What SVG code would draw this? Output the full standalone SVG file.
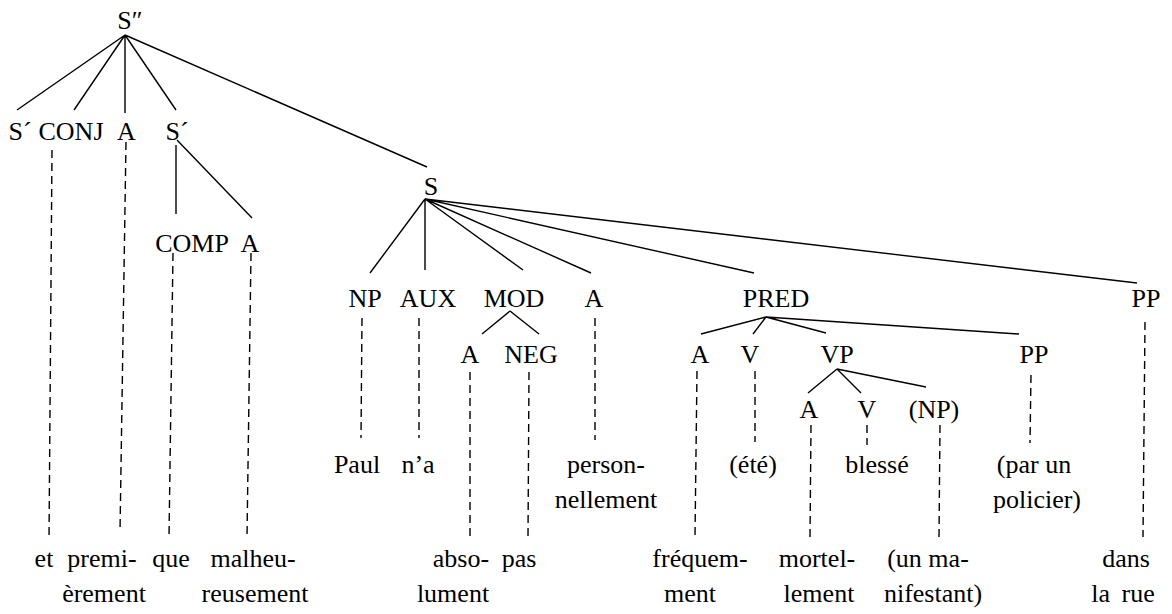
<svg xmlns="http://www.w3.org/2000/svg" width="1172" height="614" viewBox="0 0 1172 614">
<style>
text{font-family:"Liberation Serif","Times New Roman",serif;font-size:26px;fill:#000;text-anchor:middle}
.e{stroke:#000;stroke-width:1.4;fill:none}
.d{stroke:#000;stroke-width:1.4;fill:none;stroke-dasharray:8 5}
</style>
<rect width="1172" height="614" fill="#fff"/>
<g id="connectors">
<path class="e" d="M125 35L17 110M125 35L74 110M125 35L125 113M125 35L176 110M125 35L427 167"/>
<path class="e" d="M176 145L176 214M177 140L252 218"/>
<path class="e" d="M425 199L370 273M425 199L425 270M425 199L523 270M425 199L591 273M425 199L754 273M425 199L1137 283"/>
<path class="e" d="M510 311L482 334M510 311L539 334"/>
<path class="e" d="M766 317L701 334M766 317L753 334M766 317L826 333M766 317L1019 334"/>
<path class="e" d="M837 369L808 393M837 369L861 393M837 369L926 387"/>
<path class="d" d="M52 150L49 540M126 142L120 532M173 253L169 537M251 253L247 537"/>
<path class="d" d="M362 318L361 438M419 318L419 438M595 318L595 440M470 372L470 537M529 372L528 537"/>
<path class="d" d="M697 371L695 537M755 371L755 442M811 425L810 537M867 425L867 445M940 425L939 537M1031 375L1030 443M1145 322L1143 537"/>
</g>
<g id="n-S2"><text x="130" y="29">S″</text></g>
<g id="n-Sp1"><text x="20" y="140">S´</text></g>
<g id="n-CONJ"><text x="71" y="140">CONJ</text></g>
<g id="n-A1"><text x="126.5" y="140">A</text></g>
<g id="n-Sp2"><text x="177" y="140">S´</text></g>
<g id="n-COMP"><text x="192" y="252">COMP</text></g>
<g id="n-A2"><text x="250" y="252">A</text></g>
<g id="n-S"><text x="431" y="195">S</text></g>
<g id="n-NP"><text x="365" y="307">NP</text></g>
<g id="n-AUX"><text x="428" y="307">AUX</text></g>
<g id="n-MOD"><text x="514" y="307">MOD</text></g>
<g id="n-A3"><text x="594" y="307">A</text></g>
<g id="n-PRED"><text x="776" y="307">PRED</text></g>
<g id="n-PP1"><text x="1146" y="307">PP</text></g>
<g id="n-A4"><text x="470" y="363">A</text></g>
<g id="n-NEG"><text x="531" y="363">NEG</text></g>
<g id="n-A5"><text x="700" y="363">A</text></g>
<g id="n-V1"><text x="750" y="363">V</text></g>
<g id="n-VP"><text x="837" y="363">VP</text></g>
<g id="n-PP2"><text x="1034" y="363">PP</text></g>
<g id="n-A6"><text x="809" y="418">A</text></g>
<g id="n-V2"><text x="867" y="418">V</text></g>
<g id="n-NP2"><text x="934" y="418">(NP)</text></g>
<g id="w-paul"><text x="357" y="473">Paul</text></g>
<g id="w-na"><text x="418" y="473">n’a</text></g>
<g id="w-perso"><text x="606" y="473">person-</text><text x="606" y="508">nellement</text></g>
<g id="w-ete"><text x="753" y="473">(été)</text></g>
<g id="w-blesse"><text x="877" y="473">blessé</text></g>
<g id="w-par"><text x="1034" y="473">(par un</text><text x="1037" y="508">policier)</text></g>
<g id="w-et"><text x="44" y="567">et</text></g>
<g id="w-prem"><text x="102" y="567">premi-</text><text x="104" y="602">èrement</text></g>
<g id="w-que"><text x="171" y="567">que</text></g>
<g id="w-malh"><text x="253" y="567">malheu-</text><text x="255" y="602">reusement</text></g>
<g id="w-abso"><text x="461" y="567">abso-</text><text x="453" y="602">lument</text></g>
<g id="w-pas"><text x="519" y="567">pas</text></g>
<g id="w-freq"><text x="700" y="567">fréquem-</text><text x="690" y="602">ment</text></g>
<g id="w-mort"><text x="817" y="567">mortel-</text><text x="819" y="602">lement</text></g>
<g id="w-manif"><text x="928" y="567">(un ma-</text><text x="933" y="602">nifestant)</text></g>
<g id="w-dans"><text x="1126" y="567">dans</text><text x="1123" y="602" word-spacing="5">la rue</text></g>
</svg>
